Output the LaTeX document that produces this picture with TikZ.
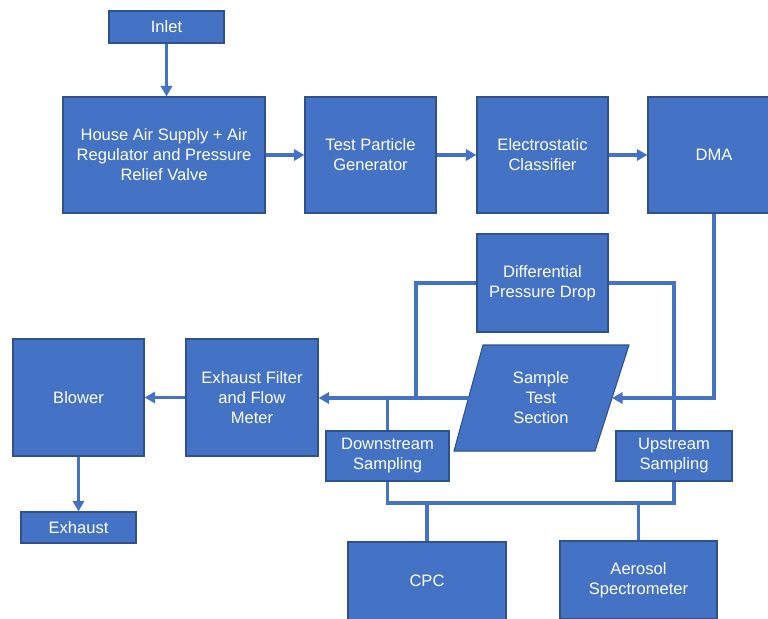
\documentclass[tikz,border=0pt]{standalone}
\usepackage{fontspec}
\setmainfont{Liberation Sans}
\usetikzlibrary{arrows.meta, calc}

\definecolor{boxblue}{HTML}{4472C4}
\definecolor{edgeblue}{HTML}{2F528F}

\begin{document}
\begin{tikzpicture}[x=0.75pt, y=-0.75pt,
    box/.style 2 args={draw=edgeblue, line width=0.8pt, fill=boxblue, text=white,
        align=center, inner sep=0pt, minimum width=#1*0.75pt, minimum height=#2*0.75pt,
        font=\fontsize{12.4}{15}\selectfont},
    flow/.style={draw=boxblue, line width=2.3pt, -{Triangle[length=8pt, width=8.5pt]}},
    link/.style={draw=boxblue, line width=2.3pt}]
        \useasboundingbox (0,0) rectangle (768,618);

        % Top row
        \node[box={115}{32}] (inlet) at (166.5,27) {Inlet};
        \node[box={202}{116}] (house) at (164,155) {House Air Supply + Air\\Regulator and Pressure\\Relief Valve};
        \node[box={131}{116}] (tpg) at (370.5,155) {Test Particle\\Generator};
        \node[box={131}{116}] (ec) at (542.5,155) {Electrostatic\\Classifier};
        \node[box={132}{116}] (dma) at (714,155) {DMA};

        % Middle row
        \node[box={131}{98}] (dpd) at (542.5,283) {Differential\\Pressure Drop};
        \node[box={131}{117}] (blower) at (78.5,397.5) {Blower};
        \node[box={132}{117}] (filter) at (252,397.5) {Exhaust Filter\\and Flow\\Meter};
        \node[box={115}{31}] (exhaust) at (78.5,527.5) {Exhaust};

        % Sample test section (parallelogram)
        \draw[draw=edgeblue, fill=boxblue, line width=0.8pt]
            (483,345) -- (629,345) -- (595,451) -- (454,451) -- cycle;
        \node[text=white, align=center, font=\fontsize{12.4}{15}\selectfont] (sts) at (541,398) {Sample\\Test\\Section};
        \coordinate (stsL) at (468.5,398);
        \coordinate (stsR) at (612,398);

        % Sampling and instruments
        \node[box={123}{50}] (down) at (387.5,456) {Downstream\\Sampling};
        \node[box={116}{50}] (up) at (674,456) {Upstream\\Sampling};
        \node[box={158}{78}] (cpc) at (427,581) {CPC};
        \node[box={157}{78}] (aero) at (638.5,580) {Aerosol\\Spectrometer};

        \coordinate (dtap) at (416,398);
        \coordinate (bus) at (0,503);

        % Main flow
        \draw[flow] (inlet.south) -- (inlet.south |- house.north);
        \draw[flow] (house) -- (tpg);
        \draw[flow] (tpg) -- (ec);
        \draw[flow] (ec) -- (dma);
        \draw[flow] (dma.south) |- (stsR);
        \draw[flow] (stsL) -- (stsL -| filter.east);
        \draw[flow] (filter) -- (blower);
        \draw[flow] (blower.south) -- (exhaust.north);

        % Pressure taps and sampling lines
        \draw[link] (dpd.west) -| (dtap);
        \draw[link] (dpd.east) -| (up.north);
        \draw[link] (down.north) -- (down.north |- stsL);
        \draw[link] (down.south) -- (down.south |- bus) -- (up.south |- bus) -- (up.south);
        \draw[link] (cpc.north) -- (cpc.north |- bus);
        \draw[link] (aero.north) -- (aero.north |- bus);
    \end{tikzpicture}
\end{document}
